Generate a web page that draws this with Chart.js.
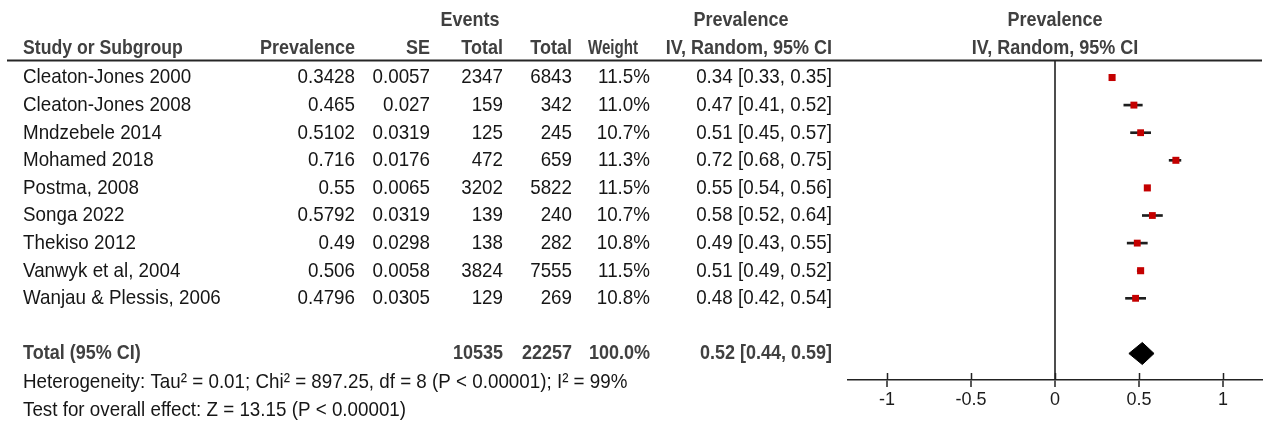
<!DOCTYPE html>
<html>
<head>
<meta charset="utf-8">
<title>Forest plot – prevalence (IV, random, 95% CI)</title>
<script src="https://cdn.jsdelivr.net/npm/chart.js@4/dist/chart.umd.min.js"></script>
<style>
  html, body { margin: 0; padding: 0; background: #ffffff; }
  canvas { display: block; }
</style>
</head>
<body>
<canvas id="forest" width="1271" height="424"></canvas>
<script>
// ---- study data ----
const studies = [
  'Cleaton-Jones 2000', 'Cleaton-Jones 2008', 'Mndzebele 2014', 'Mohamed 2018',
  'Postma, 2008', 'Songa 2022', 'Thekiso 2012', 'Vanwyk et al, 2004', 'Wanjau & Plessis, 2006'
];
const prevalence = [0.3428, 0.465, 0.5102, 0.716, 0.55, 0.5792, 0.49, 0.506, 0.4796];
const standardErrors = [0.0057, 0.027, 0.0319, 0.0176, 0.0065, 0.0319, 0.0298, 0.0058, 0.0305];
const events = [2347, 159, 125, 472, 3202, 139, 138, 3824, 129];
const totals = [6843, 342, 245, 659, 5822, 240, 282, 7555, 269];
const weights = [11.5, 11.0, 10.7, 11.3, 11.5, 10.7, 10.8, 11.5, 10.8];
const ciEstimate = [0.34, 0.47, 0.51, 0.72, 0.55, 0.58, 0.49, 0.51, 0.48];
const ciLower = [0.33, 0.41, 0.45, 0.68, 0.54, 0.52, 0.43, 0.49, 0.42];
const ciUpper = [0.35, 0.52, 0.57, 0.75, 0.56, 0.64, 0.55, 0.52, 0.54];

// ---- pooled result ----
const pooledEstimate = 0.52;
const pooledLower = 0.44;
const pooledUpper = 0.59;
const totalEvents = 10535;
const totalParticipants = 22257;
const totalWeight = '100.0%';
const totalLabel = 'Total (95% CI)';
const heterogeneityText = 'Heterogeneity: Tau\u00B2 = 0.01; Chi\u00B2 = 897.25, df = 8 (P < 0.00001); I\u00B2 = 99%';
const overallEffectText = 'Test for overall effect: Z = 13.15 (P < 0.00001)';

// ---- axis ----
const axisTicks = [-1, -0.5, 0, 0.5, 1];

// ---- header labels ----
const columnHeaders = ['Study or Subgroup', 'Prevalence', 'SE', 'Total', 'Total', 'Weight', 'IV, Random, 95% CI'];
const groupHeaders = ['Events', 'Prevalence'];
const plotHeaders = ['Prevalence', 'IV, Random, 95% CI'];

// row positions (y-scale units)
const TOTAL_ROW = 10;
const HET_ROW = 11.05;
const EFFECT_ROW = 12.05;
const DIAMOND_HALF_HEIGHT = 0.4;

const FONT = '"Liberation Sans", Arial, Helvetica, sans-serif';
const BODY_COLOR = '#161616';
const HEAD_COLOR = '#404040';

function fmtCI(est, lo, hi) {
  return est.toFixed(2) + ' [' + lo.toFixed(2) + ', ' + hi.toFixed(2) + ']';
}

// draw one string, horizontally condensed
function text(ctx, str, x, y, opts) {
  const o = Object.assign({ bold: false, align: 'left', color: BODY_COLOR, sx: 0.895, size: 21 }, opts || {});
  ctx.save();
  ctx.font = (o.bold ? 'bold ' : '') + o.size + 'px ' + FONT;
  ctx.fillStyle = o.color;
  ctx.textAlign = o.align;
  ctx.textBaseline = 'middle';
  ctx.translate(x, y);
  ctx.scale(o.sx, 1);
  ctx.fillText(str, 0, 0);
  ctx.restore();
}

// table columns, header line, summary texts and upward half of the axis ticks
const forestTable = {
  id: 'forestTable',
  afterDraw(chart) {
    const ctx = chart.ctx;
    const ys = chart.scales.y;
    const xs = chart.scales.x;
    const area = chart.chartArea;
    const rowY = (r) => ys.getPixelForValue(r);
    const H = { bold: true, color: HEAD_COLOR, sx: 0.857 };
    const HR = Object.assign({}, H, { align: 'right' });
    const HC = Object.assign({}, H, { align: 'center' });

    // headers
    const topY = 20, headY = 48;
    text(ctx, groupHeaders[0], 470, topY, HC);
    text(ctx, groupHeaders[1], 741, topY, HC);
    text(ctx, columnHeaders[0], 23, headY, Object.assign({}, H, { sx: 0.84 }));
    text(ctx, columnHeaders[1], 355, headY, HR);
    text(ctx, columnHeaders[2], 430, headY, HR);
    text(ctx, columnHeaders[3], 503, headY, HR);
    text(ctx, columnHeaders[4], 572, headY, HR);
    text(ctx, columnHeaders[5], 638, headY, Object.assign({}, HR, { sx: 0.72 }));
    text(ctx, columnHeaders[6], 832, headY, HR);
    const zeroX = xs.getPixelForValue(0);
    text(ctx, plotHeaders[0], zeroX, topY, HC);
    text(ctx, plotHeaders[1], zeroX, headY, HC);

    // rule under the headers
    ctx.save();
    ctx.strokeStyle = '#262626';
    ctx.lineWidth = 2;
    ctx.beginPath();
    ctx.moveTo(7, area.top - 0.5);
    ctx.lineTo(area.right, area.top - 0.5);
    ctx.stroke();
    ctx.restore();

    // study rows
    studies.forEach((name, i) => {
      const y = rowY(i);
      text(ctx, name, 23, y);
      text(ctx, String(prevalence[i]), 355, y, { align: 'right' });
      text(ctx, String(standardErrors[i]), 430, y, { align: 'right' });
      text(ctx, String(events[i]), 503, y, { align: 'right' });
      text(ctx, String(totals[i]), 572, y, { align: 'right' });
      text(ctx, weights[i].toFixed(1) + '%', 650, y, { align: 'right' });
      text(ctx, fmtCI(ciEstimate[i], ciLower[i], ciUpper[i]), 832, y, { align: 'right' });
    });

    // pooled row
    const ty = rowY(TOTAL_ROW);
    text(ctx, totalLabel, 23, ty, H);
    text(ctx, String(totalEvents), 503, ty, HR);
    text(ctx, String(totalParticipants), 572, ty, HR);
    text(ctx, totalWeight, 650, ty, HR);
    text(ctx, fmtCI(pooledEstimate, pooledLower, pooledUpper), 832, ty, HR);

    // heterogeneity and overall effect
    text(ctx, heterogeneityText, 23, rowY(HET_ROW));
    text(ctx, overallEffectText, 23, rowY(EFFECT_ROW));

    // ticks cross the axis line: draw the part above it
    ctx.save();
    ctx.strokeStyle = '#222222';
    ctx.lineWidth = 1.5;
    ctx.beginPath();
    axisTicks.forEach(v => {
      const px = Math.round(xs.getPixelForValue(v)) + 0.5;
      ctx.moveTo(px, area.bottom - 7);
      ctx.lineTo(px, area.bottom);
    });
    ctx.stroke();
    ctx.restore();
  }
};

const ctx = document.getElementById('forest').getContext('2d');
new Chart(ctx, {
  type: 'scatter',
  data: {
    datasets: [
      {
        // 95% confidence intervals
        type: 'bar',
        indexAxis: 'y',
        data: studies.map((s, i) => ({ y: i, x: [ciLower[i], ciUpper[i]] })),
        backgroundColor: '#1e1e1e',
        borderWidth: 0,
        barThickness: 2,
        order: 3
      },
      {
        // point estimates, sized by weight
        type: 'scatter',
        data: studies.map((s, i) => ({ x: ciEstimate[i], y: i })),
        pointStyle: 'rect',
        pointRadius: weights.map(w => 5 * Math.sqrt(w / 11.5)),
        backgroundColor: '#c40000',
        borderWidth: 0,
        order: 1
      },
      {
        // pooled estimate diamond
        type: 'scatter',
        showLine: true,
        data: [
          { x: pooledLower, y: TOTAL_ROW },
          { x: pooledEstimate, y: TOTAL_ROW - DIAMOND_HALF_HEIGHT },
          { x: pooledUpper, y: TOTAL_ROW },
          { x: pooledEstimate, y: TOTAL_ROW + DIAMOND_HALF_HEIGHT },
          { x: pooledLower, y: TOTAL_ROW }
        ],
        borderColor: '#000000',
        backgroundColor: '#000000',
        borderWidth: 1,
        pointRadius: 0,
        tension: 0,
        fill: 'shape',
        order: 2
      }
    ]
  },
  options: {
    responsive: false,
    animation: false,
    events: [],
    layout: { padding: { left: 848, right: 9, top: 61, bottom: 4 } },
    plugins: {
      legend: { display: false },
      tooltip: { enabled: false },
      title: { display: false }
    },
    scales: {
      x: {
        type: 'linear',
        position: 'bottom',
        offset: false,
        min: -1.233,
        max: 1.233,
        afterBuildTicks: (scale) => { scale.ticks = axisTicks.map(v => ({ value: v })); },
        afterFit: (scale) => { scale.height = 40; },
        ticks: {
          autoSkip: false,
          maxRotation: 0,
          padding: 2,
          color: '#1c1c1c',
          font: { family: FONT, size: 18 },
          callback: (v) => String(v)
        },
        grid: {
          drawOnChartArea: true,
          color: (c) => (c.tick && c.tick.value === 0 ? '#4d4d4d' : 'rgba(0,0,0,0)'),
          lineWidth: 2,
          drawTicks: true,
          tickLength: 7,
          tickColor: '#222222',
          tickWidth: 1.5
        },
        border: { display: true, color: '#222222', width: 1.5 }
      },
      y: {
        type: 'linear',
        reverse: true,
        offset: false,
        min: -0.598,
        max: 10.96,
        display: false
      }
    }
  },
  plugins: [forestTable]
});
</script>
</body>
</html>
